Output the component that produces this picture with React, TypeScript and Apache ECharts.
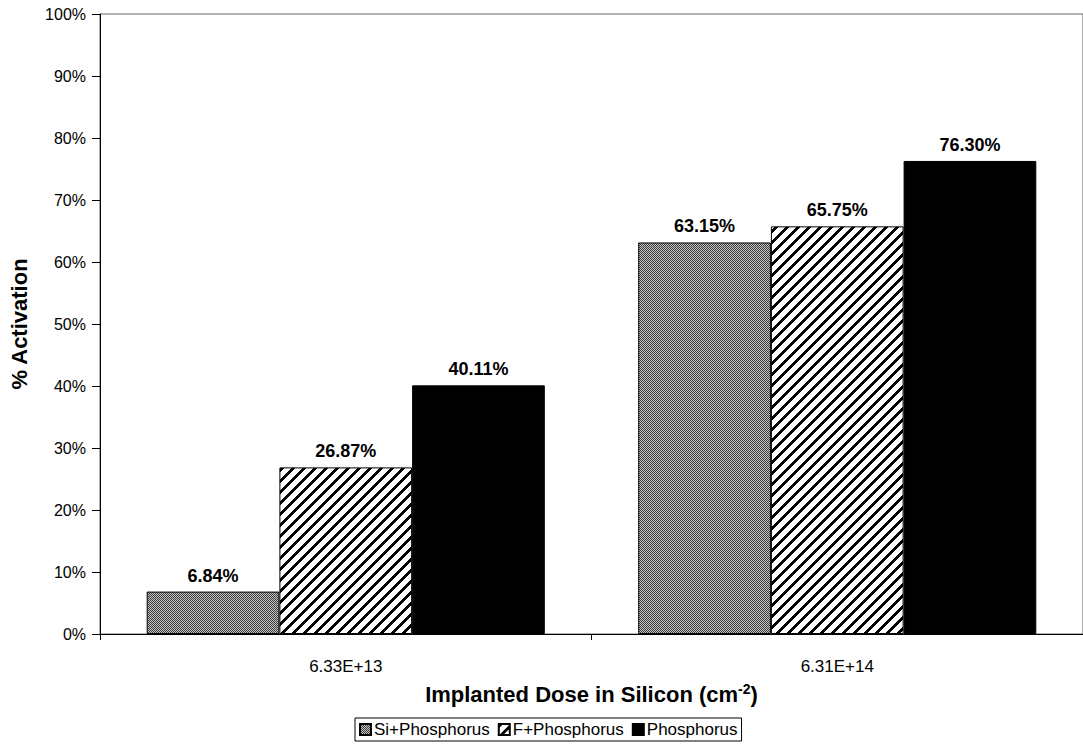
import React, { useEffect, useRef } from "react";
import * as echarts from "echarts";

const categories = ["6.33E+13", "6.31E+14"];
const siPhosphorus = [6.84, 63.15];
const fPhosphorus = [26.87, 65.75];
const phosphorus = [40.11, 76.3];
const seriesNames = ["Si+Phosphorus", "F+Phosphorus", "Phosphorus"];
const yTicks = [0, 10, 20, 30, 40, 50, 60, 70, 80, 90, 100];

function makeChecker(): HTMLCanvasElement {
  const c = document.createElement("canvas");
  c.width = 2;
  c.height = 2;
  const ctx = c.getContext("2d")!;
  ctx.fillStyle = "#c0c0c0";
  ctx.fillRect(0, 0, 2, 2);
  ctx.fillStyle = "#404040";
  ctx.fillRect(0, 0, 1, 1);
  ctx.fillRect(1, 1, 1, 1);
  return c;
}

function makeStripes(): HTMLCanvasElement {
  const n = 11;
  const c = document.createElement("canvas");
  c.width = n;
  c.height = n;
  const ctx = c.getContext("2d")!;
  ctx.fillStyle = "#ffffff";
  ctx.fillRect(0, 0, n, n);
  ctx.fillStyle = "#000000";
  for (let x = 0; x < n; x++) {
    for (let y = 0; y < n; y++) {
      if ((x + y) % n < 4) ctx.fillRect(x, y, 1, 1);
    }
  }
  return c;
}

export default function App() {
  const ref = useRef<HTMLDivElement>(null);
  useEffect(() => {
    if (!ref.current) return;
    const chart = echarts.init(ref.current, undefined, { renderer: "svg" });
    const font = "'Liberation Sans', Arial, sans-serif";
    const checker = { image: makeChecker(), repeat: "repeat" } as any;
    const stripes = { image: makeStripes(), repeat: "repeat" } as any;
    const colors = [checker, stripes, "#000000"];
    const data = [siPhosphorus, fPhosphorus, phosphorus];
    chart.setOption({
      animation: false,
      backgroundColor: "#ffffff",
      textStyle: { fontFamily: font },
      grid: {
        left: 97,
        right: -6,
        top: 14,
        bottom: 116,
        show: true,
        borderColor: "#666666",
        borderWidth: 1,
        backgroundColor: "transparent",
      },
      legend: {
        data: seriesNames,
        left: 355,
        top: 718,
        orient: "horizontal",
        icon: "rect",
        itemWidth: 11,
        itemHeight: 11,
        itemGap: 8,
        padding: [3, 4, 3, 4],
        borderColor: "#000000",
        borderWidth: 1,
        textStyle: { fontFamily: font, fontSize: 17, color: "#000", padding: [0, 0, 0, -2] },
      },
      xAxis: {
        type: "category",
        data: categories,
        axisLine: { lineStyle: { color: "#000", width: 1 } },
        axisTick: { show: true, alignWithLabel: false, length: 6, lineStyle: { color: "#000" } },
        axisLabel: { color: "#000", fontSize: 17, margin: 24, fontFamily: font },
        name: "{a|Implanted Dose in Silicon (cm}{s|-2}{a|)}",
        nameLocation: "middle",
        nameGap: 48,
        nameTextStyle: {
          rich: {
            a: { fontSize: 22, fontWeight: "bold", color: "#000", fontFamily: font },
            s: { fontSize: 14, fontWeight: "bold", color: "#000", fontFamily: font, verticalAlign: "top", padding: [0, 0, 11, 0] },
          },
        },
      },
      yAxis: {
        type: "value",
        min: yTicks[0],
        max: yTicks[yTicks.length - 1],
        interval: 10,
        axisLine: { show: true, lineStyle: { color: "#000", width: 1 } },
        axisTick: { show: true, length: 8, lineStyle: { color: "#000" } },
        splitLine: { show: false },
        axisLabel: { color: "#000", fontSize: 16, margin: 14, formatter: "{value}%", fontFamily: font },
        name: "% Activation",
        nameLocation: "middle",
        nameGap: 70,
        nameTextStyle: { fontSize: 22, fontWeight: "bold", color: "#000", fontFamily: font },
      },
      series: seriesNames.map((name, i) => ({
        name,
        type: "bar",
        data: data[i],
        barGap: "0%",
        barCategoryGap: "19%",
        itemStyle: { color: colors[i], borderColor: "#000", borderWidth: 1 },
        label: {
          show: true,
          position: "top",
          distance: 7,
          fontSize: 18,
          fontWeight: "bold",
          color: "#000",
          fontFamily: font,
          formatter: (p: any) => p.value.toFixed(2) + "%",
        },
      })),
    });
    return () => chart.dispose();
  }, []);
  return (
    <div
      ref={ref}
      style={{ position: "fixed", left: 0, top: 0, width: 1083, height: 750, background: "#fff" }}
    />
  );
}
